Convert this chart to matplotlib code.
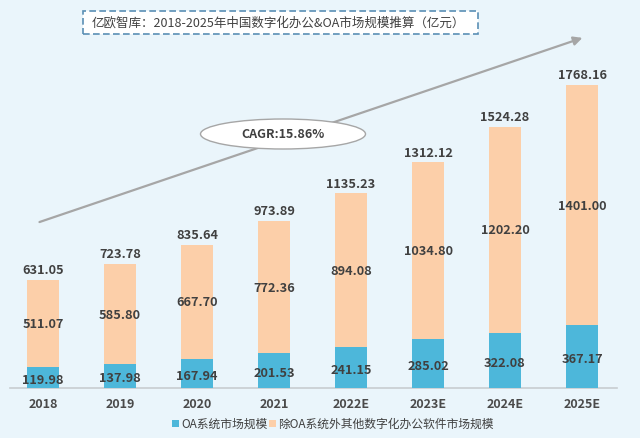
import matplotlib
matplotlib.use("Agg")
import matplotlib.pyplot as plt
from matplotlib.patches import Ellipse, Rectangle

plt.rcParams['font.family'] = ['Noto Sans CJK SC', 'DejaVu Sans']

years = ["2018", "2019", "2020", "2021", "2022E", "2023E", "2024E", "2025E"]
oa = [119.98, 137.98, 167.94, 201.53, 241.15, 285.02, 322.08, 367.17]
other = [511.07, 585.80, 667.70, 772.36, 894.08, 1034.80, 1202.20, 1401.00]
total = [631.05, 723.78, 835.64, 973.89, 1135.23, 1312.12, 1524.28, 1768.16]
title = "亿欧智库：2018-2025年中国数字化办公&OA市场规模推算（亿元）"
cagr = "CAGR:15.86%"
legend_labels = ["OA系统市场规模", "除OA系统外其他数字化办公软件市场规模"]

bg = "#EAF5FB"
c_blue = "#4DB7DA"
c_peach = "#FCCFA9"
txt = "#404040"

fig = plt.figure(figsize=(6.4, 4.39), dpi=100, facecolor=bg)
ax = fig.add_axes([0, 0, 1, 1])
ax.set_facecolor(bg)
ax.set_xlim(-43/77, (640-43)/77)
ax.set_ylim(-50/0.1714, 389/0.1714)
ax.axis("off")

x = list(range(len(years)))
w = 0.41
ax.bar(x, oa, width=w, color=c_blue, zorder=2)
ax.bar(x, other, width=w, bottom=oa, color=c_peach, zorder=2)

for i in x:
    ax.text(i, oa[i] / 2 - 10, f"{oa[i]:.2f}", ha="center", va="center",
            fontsize=9.2, fontweight="bold", color=txt, zorder=3)
    ax.text(i, oa[i] + other[i] / 2, f"{other[i]:.2f}", ha="center", va="center",
            fontsize=9.2, fontweight="bold", color=txt, zorder=3)
    ax.text(i, total[i] + 60, f"{total[i]:.2f}", ha="center", va="center",
            fontsize=9.2, fontweight="bold", color=txt, zorder=3)
    ax.text(i, -88, years[i], ha="center", va="center",
            fontsize=9, fontweight="bold", color="#4A4A4A", zorder=3)

# baseline
ax.plot([-0.43, 7.45], [0, 0], color="#C8CDD0", lw=1.2, zorder=1)

# growth arrow
ax.annotate("", xy=(7.04, 2048), xytext=(-0.08, 963),
            arrowprops=dict(arrowstyle="-|>", color="#A6A6A6", lw=1.6,
                            mutation_scale=13), zorder=1)

# CAGR ellipse (in figure pixels)
ell = Ellipse((283/640, 1 - 135/439), 165/640, 30/439, transform=fig.transFigure,
              facecolor="white", edgecolor="#A6A6A6", lw=1.0, zorder=4)
fig.patches.append(ell)
fig.text(283/640, 1 - 135/439, cagr, ha="center", va="center", fontsize=9,
         fontweight="bold", color="#404040", zorder=5)

# title box
box = Rectangle((83/640, 1 - 35/439), (478-83)/640, 23/439, transform=fig.transFigure,
                facecolor="white", edgecolor="#5A8FB5", lw=1.2, linestyle=(0, (4, 2)),
                zorder=4)
fig.patches.append(box)
fig.text(278/640, 1 - 23.5/439, title, ha="center", va="center", fontsize=9,
         color="#404040", zorder=5)

# legend
ly = 1 - 424/439
fig.patches.append(Rectangle((172/640, ly - 3.5/439), 7/640, 7/439, transform=fig.transFigure,
                             facecolor=c_blue, edgecolor="none"))
fig.text(181/640, ly, legend_labels[0], ha="left", va="center", fontsize=8.5, color=txt)
fig.patches.append(Rectangle((269/640, ly - 3.5/439), 7/640, 7/439, transform=fig.transFigure,
                             facecolor=c_peach, edgecolor="none"))
fig.text(278/640, ly, legend_labels[1], ha="left", va="center", fontsize=8.5, color=txt)

fig.savefig("out.png", dpi=100, facecolor=bg)
